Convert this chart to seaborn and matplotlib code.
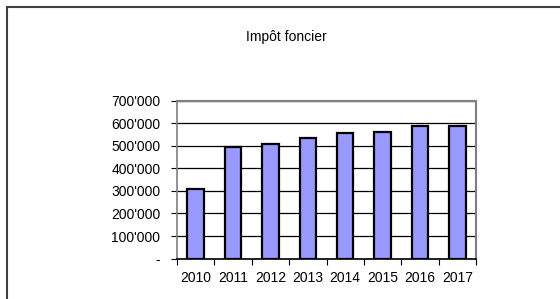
import matplotlib
matplotlib.use("Agg")
import matplotlib.pyplot as plt
import matplotlib.ticker as mticker
import pandas as pd
import seaborn as sns
from matplotlib.patches import Rectangle

years = ["2010", "2011", "2012", "2013", "2014", "2015", "2016", "2017"]
values = [307000, 494000, 510000, 534000, 558000, 562000, 589000, 587000]
y_ticks = [0, 100000, 200000, 300000, 400000, 500000, 600000, 700000]
title = "Impôt foncier"

sns.set_style("white")
plt.rcParams["font.family"] = ["Liberation Sans", "DejaVu Sans"]
plt.rcParams["text.color"] = "black"
plt.rcParams["xtick.color"] = "black"
plt.rcParams["ytick.color"] = "black"

fig = plt.figure(figsize=(5.6, 2.99), dpi=100)
fig.patches.append(Rectangle((6.5 / 560, -0.1), 1.2, 1 - 6.5 / 299 + 0.1,
                             transform=fig.transFigure, fill=False,
                             edgecolor="#404040", linewidth=1.5))

ax = fig.add_axes([177 / 560, 1 - 258.6 / 299, 299 / 560, 157.9 / 299])
data = pd.DataFrame({"year": years, "value": values})
sns.barplot(data=data, x="year", y="value", color="#9999ff", saturation=1,
            edgecolor="black", linewidth=1.6, width=0.44, ax=ax, zorder=3)

ax.set_xlim(-0.5, len(years) - 0.5)
ax.set_ylim(0, 700000)
ax.set_yticks(y_ticks)
ax.yaxis.set_major_formatter(mticker.FuncFormatter(
    lambda v, p: "-" if v == 0 else f"{int(v):,}".replace(",", "'")))
ax.set_xticks([i - 0.5 for i in range(len(years) + 1)], minor=True)
ax.tick_params(axis="x", which="major", length=0, pad=9, labelsize=10)
ax.tick_params(axis="x", which="minor", length=4, width=0.8, direction="out",
               color="black", bottom=True)
ax.tick_params(axis="y", length=4, width=0.8, direction="out", color="black",
               left=True, labelsize=10, pad=8)
ax.grid(axis="y", color="black", linewidth=0.9, zorder=0)
ax.set_axisbelow(True)
ax.set_xlabel("")
ax.set_ylabel("")
for side in ["top", "right"]:
    ax.spines[side].set_color("#808080")
    ax.spines[side].set_linewidth(1.5)
ax.spines["left"].set_color("#808080")
ax.spines["left"].set_linewidth(1.2)
ax.spines["bottom"].set_color("black")
ax.spines["bottom"].set_linewidth(1.2)

fig.text(286 / 560, 1 - 37 / 299, title, ha="center", va="center", fontsize=10)

plt.savefig("out.png", dpi=100)
plt.close("all")
